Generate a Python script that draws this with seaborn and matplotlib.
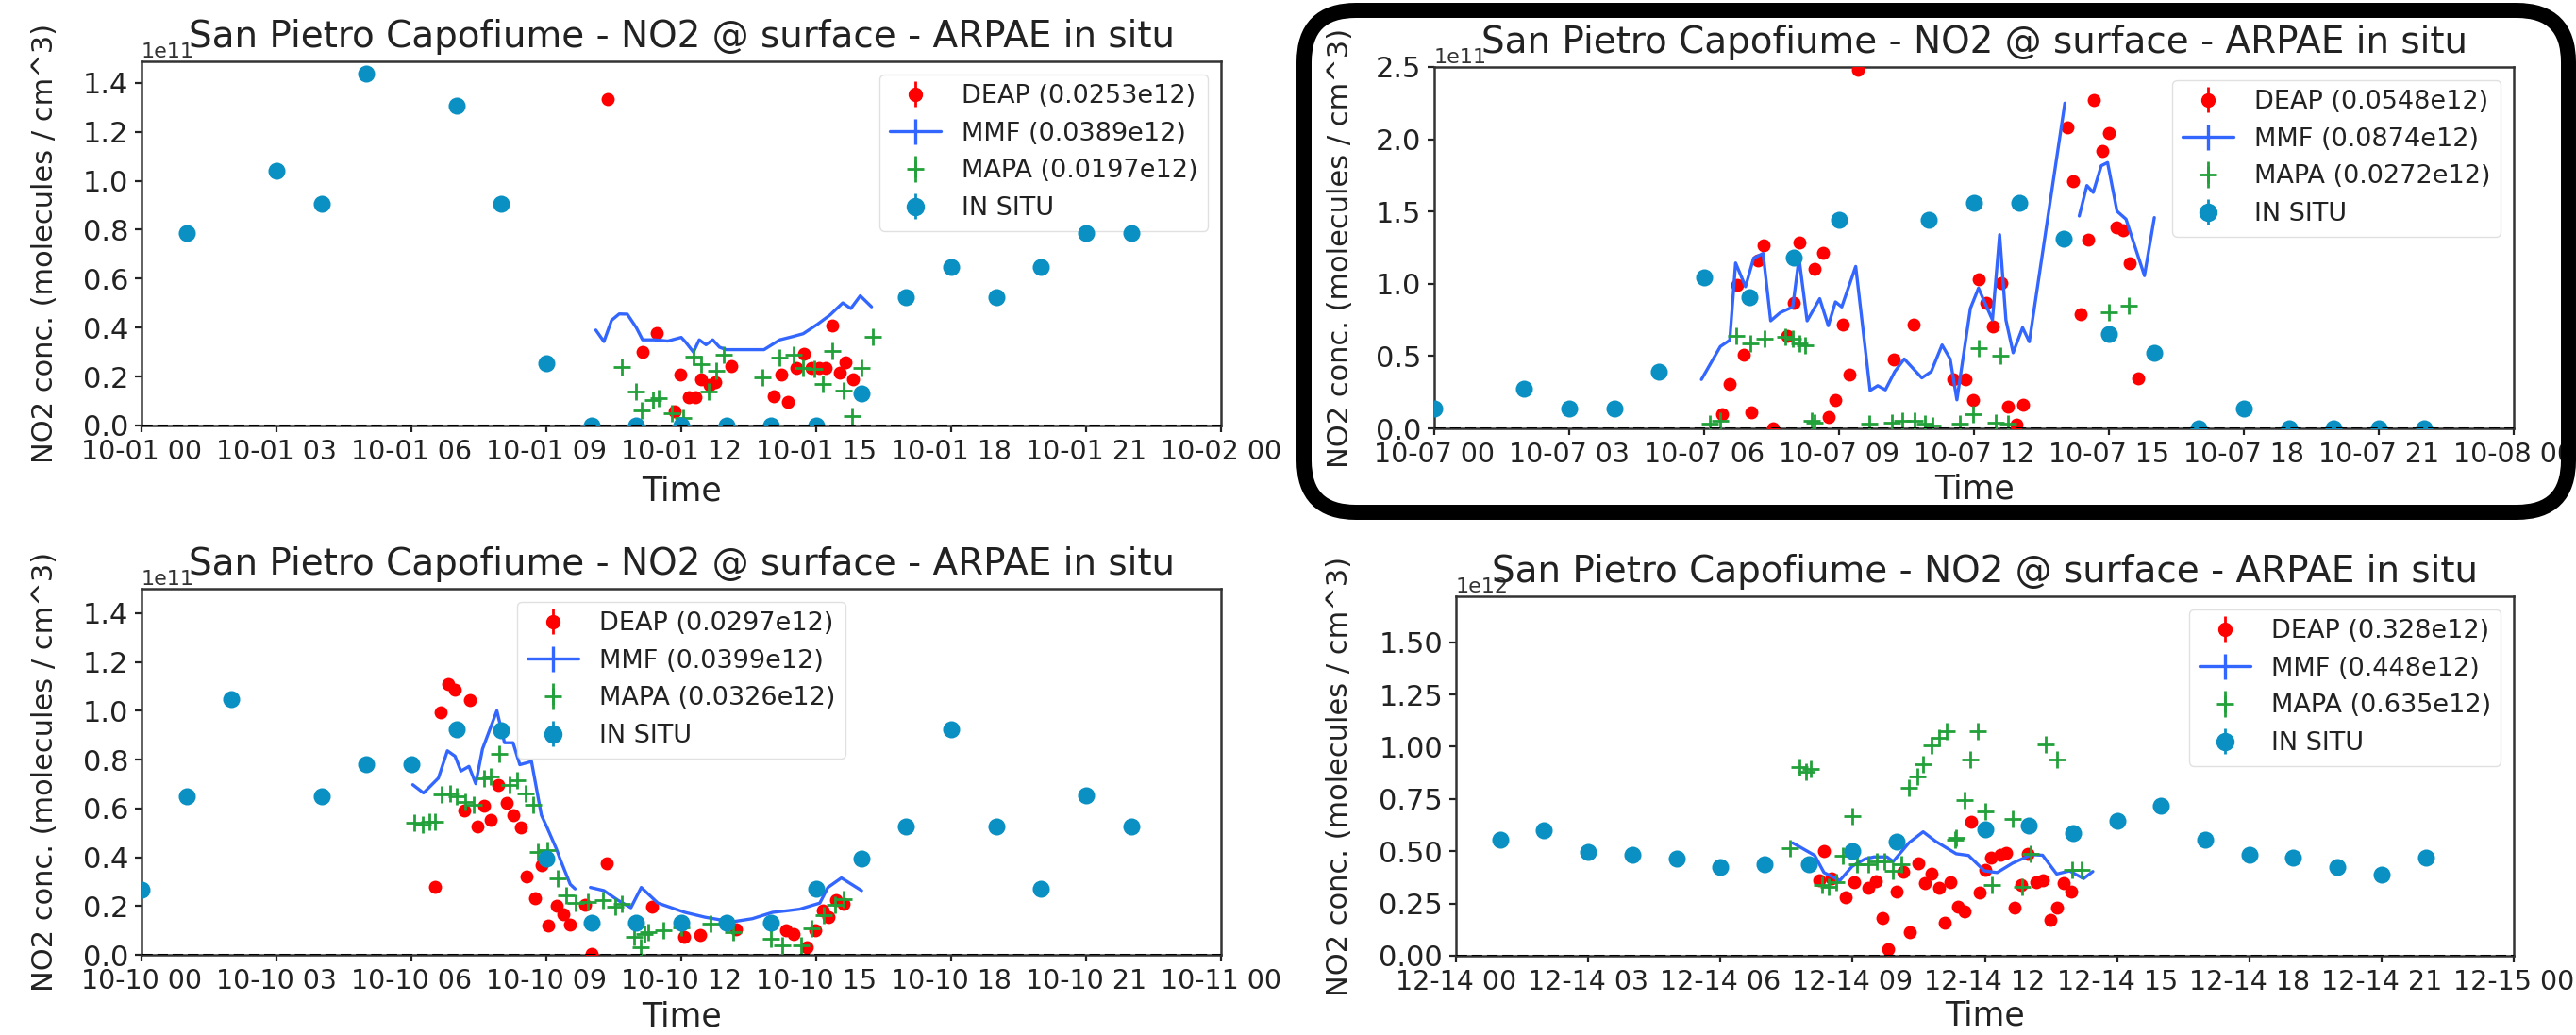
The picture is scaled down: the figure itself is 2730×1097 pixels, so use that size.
import numpy as np
import pandas as pd
import matplotlib
matplotlib.use("Agg")
import matplotlib.pyplot as plt
import matplotlib.dates as mdates
import matplotlib.ticker as mticker
import seaborn as sns
from matplotlib.patches import FancyBboxPatch
from matplotlib.transforms import IdentityTransform

sns.set_style("white")
plt.rcParams["font.family"] = ["DejaVu Sans"]

TITLE = "San Pietro Capofiume - NO2 @ surface - ARPAE in situ"
YLABEL = "NO2 conc. (molecules / cm^3)"

# ---------------- Panel 1 : 10-01 (values in 1e11) ----------------
tl_day = "2019-10-01"
tl_insitu_h = [1, 3, 4, 5, 7, 8, 9, 10, 11, 12, 13, 14, 15, 16, 17, 18, 19, 20, 21, 22]
tl_insitu_v = [0.785, 1.04, 0.906, 1.436, 1.305, 0.906, 0.253, 0.0, 0.0, 0.0, 0.0, 0.0, 0.0,
               0.13, 0.523, 0.649, 0.523, 0.649, 0.785, 0.785]
tl_mmf_h = [10.1, 10.28, 10.45, 10.62, 10.8, 11.0, 11.14, 11.4, 11.7, 12.0, 12.1, 12.27, 12.4,
            12.55, 12.7, 12.85, 13.0, 13.4, 13.84, 14.19, 14.47, 14.71, 15.03, 15.31, 15.59,
            15.77, 15.98, 16.23]
tl_mmf_v = [0.39, 0.343, 0.43, 0.456, 0.455, 0.40, 0.35, 0.35, 0.345, 0.36, 0.34, 0.30, 0.35,
            0.33, 0.35, 0.32, 0.31, 0.31, 0.31, 0.35, 0.363, 0.375, 0.414, 0.452, 0.501,
            0.478, 0.53, 0.485]
tl_deap_h = [10.36, 11.13, 11.45, 11.85, 11.97, 12.16, 12.32, 12.44, 12.63, 12.76, 13.11, 14.06,
             14.23, 14.37, 14.55, 14.72, 14.9, 15.07, 15.21, 15.35, 15.52, 15.66, 15.82]
tl_deap_v = [1.334, 0.30, 0.376, 0.057, 0.207, 0.114, 0.114, 0.19, 0.164, 0.177, 0.243, 0.118,
             0.208, 0.098, 0.234, 0.292, 0.234, 0.234, 0.234, 0.407, 0.214, 0.259, 0.188]
tl_mapa_h = [10.68, 10.99, 11.12, 11.37, 11.5, 11.8, 12.04, 12.27, 12.44, 12.6, 12.78, 12.94,
             13.81, 14.19, 14.5, 14.71, 14.95, 15.14, 15.35, 15.6, 15.8, 16.01, 16.26]
tl_mapa_v = [0.24, 0.14, 0.06, 0.104, 0.11, 0.05, 0.03, 0.283, 0.25, 0.137, 0.223, 0.29,
             0.195, 0.279, 0.29, 0.234, 0.23, 0.169, 0.305, 0.143, 0.04, 0.234, 0.362]
tl_labels = ["DEAP (0.0253e12)", "MMF (0.0389e12)", "MAPA (0.0197e12)", "IN SITU"]

# ---------------- Panel 2 : 10-07 (values in 1e11) ----------------
tr_day = "2019-10-07"
tr_insitu_h = [0, 2, 3, 4, 5, 6, 7, 8, 9, 11, 12, 13, 14, 15, 16, 17, 18, 19, 20, 21, 22]
tr_insitu_v = [0.14, 0.276, 0.14, 0.14, 0.39, 1.045, 0.91, 1.18, 1.44, 1.44, 1.562, 1.562, 1.31,
               0.654, 0.519, 0.0, 0.135, 0.0, 0.0, 0.0, 0.0]
tr_mmf_h = [5.94, 6.36, 6.57, 6.7, 6.92, 7.1, 7.31, 7.48, 7.69, 7.97, 8.11, 8.29, 8.57, 8.76,
            8.92, 9.06, 9.37, 9.69, 9.86, 10.03, 10.24, 10.45, 10.84, 11.05, 11.29, 11.47,
            11.62, 11.92, 12.1, 12.41, 12.57, 12.71, 12.87, 13.08, 13.23, 14.02, 14.18, 14.34,
            14.51, 14.65, 14.83, 14.97, 15.18, 15.38, 15.79, 16.01]
tr_mmf_v = [0.338, 0.566, 0.61, 1.144, 0.98, 1.177, 1.21, 0.744, 0.80, 0.84, 1.177, 0.744, 0.897,
            0.71, 0.875, 0.84, 1.12, 0.262, 0.295, 0.266, 0.393, 0.48, 0.349, 0.393, 0.577, 0.48,
            0.197, 0.83, 0.97, 0.75, 1.34, 0.75, 0.523, 0.697, 0.599, 2.25, np.nan, 1.469,
            1.68, 1.632, 1.817, 1.839, 1.502, 1.447, 1.056, 1.458]
tr_deap_h = [6.40, 6.57, 6.73, 6.89, 7.05, 7.19, 7.33, 7.54, 7.85, 7.99, 8.11, 8.45, 8.64, 8.76,
             8.92, 9.08, 9.23, 9.43, 10.21, 10.66, 11.54, 11.82, 11.97, 12.11, 12.27, 12.43,
             12.6, 12.76, 12.94, 13.09, 14.07, 14.2, 14.37, 14.53, 14.67, 14.86, 15.0, 15.17,
             15.31, 15.47, 15.65]
tr_deap_v = [0.10, 0.305, 0.99, 0.512, 0.114, 1.164, 1.267, 0.0, 0.642, 0.865, 1.285, 1.106,
             1.214, 0.077, 0.197, 0.718, 0.375, 2.48, 0.475, 0.718, 0.338, 0.338, 0.197, 1.034,
             0.867, 0.708, 1.005, 0.153, 0.023, 0.164, 2.08, 1.71, 0.79, 1.307, 2.27, 1.92,
             2.04, 1.39, 1.374, 1.14, 0.349]
tr_mapa_h = [6.13, 6.36, 6.71, 7.03, 7.34, 7.8, 7.97, 8.11, 8.25, 8.4, 8.46, 9.68, 10.18, 10.4,
             10.68, 10.9, 11.08, 11.68, 11.97, 12.1, 12.48, 12.59, 12.76, 15.0, 15.45]
tr_mapa_v = [0.03, 0.05, 0.642, 0.588, 0.62, 0.631, 0.62, 0.588, 0.577, 0.05, 0.04, 0.03, 0.04,
             0.05, 0.05, 0.03, 0.02, 0.03, 0.1, 0.555, 0.04, 0.501, 0.03, 0.805, 0.849]
tr_labels = ["DEAP (0.0548e12)", "MMF (0.0874e12)", "MAPA (0.0272e12)", "IN SITU"]

# ---------------- Panel 3 : 10-10 (values in 1e11) ----------------
bl_day = "2019-10-10"
bl_insitu_h = [0, 1, 2, 4, 5, 6, 7, 8, 9, 10, 11, 12, 13, 14, 15, 16, 17, 18, 19, 20, 21, 22]
bl_insitu_v = [0.265, 0.65, 1.049, 0.65, 0.782, 0.782, 0.923, 0.92, 0.395, 0.132, 0.132, 0.132,
               0.132, 0.132, 0.269, 0.395, 0.525, 0.923, 0.525, 0.269, 0.652, 0.525]
bl_mmf_h = [6.03, 6.27, 6.6, 6.8, 6.97, 7.1, 7.28, 7.43, 7.58, 7.9, 8.07, 8.26, 8.41, 8.67, 8.89,
            9.02, 9.23, 9.3, 9.53, 9.64, 9.8, 9.98, 10.28, 10.58, 10.88, 11.11, 11.48, 12.08,
            12.53, 13.13, 13.58, 14.03, 14.33, 14.63, 15.08, 15.26, 15.56, 16.01]
bl_mmf_v = [0.697, 0.663, 0.724, 0.836, 0.814, 0.753, 0.772, 0.701, 0.843, 1.0, 0.869, 0.869,
            0.779, 0.792, 0.572, 0.52, 0.431, 0.395, 0.289, 0.27, np.nan, 0.276, 0.263, 0.225,
            0.193, 0.276, 0.212, 0.174, 0.154, 0.135, 0.148, 0.174, 0.18, 0.187, 0.212, 0.276,
            0.315, 0.263]
bl_deap_h = [6.52, 6.66, 6.82, 6.97, 7.3, 7.17, 7.47, 7.61, 7.76, 7.92, 8.11, 8.26, 8.44, 8.56,
             8.74, 8.89, 9.04, 9.23, 9.38, 9.53, 9.87, 10.0, 10.34, 11.35, 12.06, 12.41, 13.22,
             14.33, 14.5, 14.78, 14.97, 15.14, 15.27, 15.45, 15.6]
bl_deap_v = [0.278, 0.994, 1.111, 1.087, 1.042, 0.59, 0.527, 0.611, 0.553, 0.695, 0.624, 0.573,
             0.521, 0.322, 0.231, 0.367, 0.12, 0.2, 0.167, 0.122, 0.206, 0.005, 0.375, 0.196,
             0.073, 0.08, 0.105, 0.1, 0.086, 0.03, 0.1, 0.182, 0.155, 0.223, 0.207]
bl_mapa_h = [6.07, 6.26, 6.4, 6.53, 6.68, 6.86, 7.0, 7.19, 7.38, 7.62, 7.76, 7.95, 8.18, 8.35,
             8.54, 8.7, 8.82, 9.03, 9.26, 9.45, 9.64, 9.92, 10.25, 10.53, 10.68, 10.95, 11.09,
             11.19, 11.27, 11.61, 11.99, 12.64, 13.16, 14.0, 14.24, 14.66, 14.89, 15.17, 15.41,
             15.6]
bl_mapa_v = [0.54, 0.533, 0.546, 0.547, 0.658, 0.662, 0.649, 0.627, 0.614, 0.724, 0.731, 0.822,
             0.696, 0.717, 0.662, 0.614, 0.423, 0.43, 0.313, 0.245, 0.211, 0.218, 0.225, 0.197,
             0.21, 0.073, 0.032, 0.086, 0.094, 0.1, 0.114, 0.127, 0.093, 0.066, 0.038, 0.038,
             0.107, 0.162, 0.203, 0.23]
bl_labels = ["DEAP (0.0297e12)", "MMF (0.0399e12)", "MAPA (0.0326e12)", "IN SITU"]

# ---------------- Panel 4 : 12-14 (values in 1e12) ----------------
br_day = "2019-12-14"
br_insitu_h = [1, 2, 3, 4, 5, 6, 7, 8, 9, 10, 12, 13, 14, 15, 16, 17, 18, 19, 20, 21, 22]
br_insitu_v = [0.557, 0.6, 0.498, 0.485, 0.466, 0.424, 0.437, 0.44, 0.5, 0.546, 0.606, 0.625,
               0.586, 0.647, 0.717, 0.556, 0.485, 0.468, 0.424, 0.386, 0.468]
br_mmf_h = [7.64, 8.14, 8.35, 8.71, 8.99, 9.28, 9.49, 9.78, 9.92, 10.28, 10.6, 10.88, 11.35,
            11.63, 11.99, 12.28, 12.63, 13.06, 13.31, 13.63, 13.92, 14.24, 14.45]
br_mmf_v = [0.54, 0.48, 0.398, 0.36, 0.428, 0.463, 0.473, 0.473, 0.451, 0.541, 0.593, 0.548,
            0.488, 0.48, 0.406, 0.398, 0.443, 0.484, 0.481, 0.391, 0.406, 0.369, 0.403]
br_deap_h = [8.35, 8.24, 8.53, 8.85, 9.03, 9.35, 9.53, 9.67, 9.81, 10.0, 10.14, 10.29, 10.48,
             10.63, 10.78, 10.96, 11.1, 11.21, 11.38, 11.53, 11.69, 11.88, 12.0, 12.13, 12.35,
             12.49, 12.67, 12.83, 12.98, 13.17, 13.31, 13.48, 13.63, 13.78, 13.95]
br_deap_v = [0.499, 0.362, 0.369, 0.278, 0.353, 0.323, 0.357, 0.181, 0.031, 0.308, 0.403, 0.113,
             0.444, 0.346, 0.391, 0.324, 0.158, 0.354, 0.233, 0.211, 0.643, 0.302, 0.413, 0.469,
             0.481, 0.493, 0.229, 0.338, 0.488, 0.354, 0.361, 0.173, 0.229, 0.346, 0.308]
br_mapa_h = [7.57, 7.8, 7.95, 8.06, 8.3, 8.45, 8.62, 8.78, 8.99, 9.1, 9.35, 9.55, 9.71, 9.92,
             10.1, 10.28, 10.46, 10.6, 10.78, 10.96, 11.14, 11.33, 11.35, 11.53, 11.67, 11.85,
             12.0, 12.17, 12.63, 12.85, 13.03, 13.38, 13.63, 13.99, 14.2]
br_mapa_v = [0.513, 0.905, 0.88, 0.894, 0.34, 0.33, 0.35, 0.48, 0.668, 0.44, 0.436, 0.45, 0.451,
             0.406, 0.44, 0.804, 0.856, 0.916, 1.006, 1.044, 1.076, 0.557, 0.563, 0.743, 0.939,
             1.073, 0.691, 0.338, 0.654, 0.33, 0.488, 1.012, 0.939, 0.413, 0.413]
br_labels = ["DEAP (0.328e12)", "MMF (0.448e12)", "MAPA (0.635e12)", "IN SITU"]

# ---------------- styling ----------------
C_DEAP = "#ff0000"
C_MMF = "#3366ff"
C_MAPA = "#22a03a"
C_INSITU = "#0a90c2"
TXT = "#222222"

W, H = 2730, 1097
fig = plt.figure(figsize=(W / 100, H / 100), dpi=100)
fig.patch.set_facecolor("white")


def add_axes_px(l, t, r, b):
    return fig.add_axes([l / W, 1 - b / H, (r - l) / W, (b - t) / H])


def draw_panel(ax, day, scale, ins_h, ins_v, mmf_h, mmf_v, dp_h, dp_v, mp_h, mp_v,
               labels, ytop, ystep, legloc, ylab_x, xlab_y):
    base = pd.Timestamp(day)

    def tt(h):
        return base + pd.to_timedelta(np.asarray(h, dtype=float), unit="h")

    mmf = pd.DataFrame({"t": tt(mmf_h), "v": np.asarray(mmf_v, dtype=float) * scale})
    mmf["seg"] = mmf["v"].isna().cumsum()
    mmf = mmf.dropna()

    sns.scatterplot(x=tt(dp_h), y=np.asarray(dp_v) * scale, marker="o", s=10 ** 2,
                    color=C_DEAP, linewidth=0, ax=ax, legend=False, zorder=3)
    sns.lineplot(data=mmf, x="t", y="v", units="seg", estimator=None, color=C_MMF,
                 linewidth=2.4, ax=ax, legend=False, zorder=4)
    sns.scatterplot(x=tt(mp_h), y=np.asarray(mp_v) * scale, marker="+", s=13 ** 2,
                    color=C_MAPA, linewidth=2.0, ax=ax, legend=False, zorder=5)
    sns.scatterplot(x=tt(ins_h), y=np.asarray(ins_v) * scale, marker="o", s=13 ** 2,
                    color=C_INSITU, linewidth=0, ax=ax, legend=False, zorder=6)
    ax.axhline(0, color="black", ls="--", lw=2.2, zorder=7)

    # legend proxies (errorbar style handles)
    nan_t = [base]
    h1 = ax.errorbar(nan_t, [np.nan], yerr=[0], fmt="o", color=C_DEAP, ms=10, lw=2)
    h2 = ax.errorbar(nan_t, [np.nan], yerr=[0], fmt="-", color=C_MMF, lw=2.4)
    h3 = ax.errorbar(nan_t, [np.nan], yerr=[0], fmt="+", color=C_MAPA, ms=13, mew=2, lw=2)
    h4 = ax.errorbar(nan_t, [np.nan], yerr=[0], fmt="o", color=C_INSITU, ms=13, lw=2)
    leg = ax.legend([h1, h2, h3, h4], labels, loc=legloc, fontsize=19.5,
                    framealpha=0.8, edgecolor="0.85")
    for txt in leg.get_texts():
        txt.set_color(TXT)

    ax.set_xlim(base, base + pd.Timedelta(days=1))
    ax.set_ylim(0, ytop)
    ax.yaxis.set_major_locator(mticker.MultipleLocator(ystep))
    ax.xaxis.set_major_locator(mdates.HourLocator(byhour=range(0, 24, 3)))
    ax.xaxis.set_major_formatter(mdates.DateFormatter("%m-%d %H"))
    ax.tick_params(axis="both", length=5, width=1.6, pad=5, colors=TXT,
                   bottom=True, left=True)
    ax.tick_params(axis="x", labelsize=20.5)
    ax.tick_params(axis="y", labelsize=22)
    ax.yaxis.get_offset_text().set_fontsize(16)
    ax.yaxis.get_offset_text().set_color("#333333")

    ax.set_title(TITLE, fontsize=28, pad=11, y=1.0, color=TXT)
    ax.set_xlabel("Time", fontsize=25, color=TXT)
    ax.set_ylabel(YLABEL, fontsize=22, color=TXT)
    ax.yaxis.set_label_coords(ylab_x, 0.5)
    ax.xaxis.set_label_coords(0.5, xlab_y)
    for sp in ax.spines.values():
        sp.set_visible(True)
        sp.set_color("#333333")
        sp.set_linewidth(1.8)


ax1 = add_axes_px(150, 65, 1294, 451)
draw_panel(ax1, tl_day, 1e11, tl_insitu_h, tl_insitu_v, tl_mmf_h, tl_mmf_v, tl_deap_h,
           tl_deap_v, tl_mapa_h, tl_mapa_v, tl_labels, 1.488e11, 0.2e11, "upper right",
           -0.0765, -0.136)

ax2 = add_axes_px(1520, 71, 2664, 454)
draw_panel(ax2, tr_day, 1e11, tr_insitu_h, tr_insitu_v, tr_mmf_h, tr_mmf_v, tr_deap_h,
           tr_deap_v, tr_mapa_h, tr_mapa_v, tr_labels, 2.5e11, 0.5e11, "upper right",
           -0.0743, -0.125)

ax3 = add_axes_px(150, 624, 1294, 1012)
draw_panel(ax3, bl_day, 1e11, bl_insitu_h, bl_insitu_v, bl_mmf_h, bl_mmf_v, bl_deap_h,
           bl_deap_v, bl_mapa_h, bl_mapa_v, bl_labels, 1.5e11, 0.2e11, "upper center",
           -0.0765, -0.124)

ax4 = add_axes_px(1543, 632, 2664, 1013)
draw_panel(ax4, br_day, 1e12, br_insitu_h, br_insitu_v, br_mmf_h, br_mmf_v, br_deap_h,
           br_deap_v, br_mapa_h, br_mapa_v, br_labels, 1.72e12, 0.25e12, "upper right",
           -0.0968, -0.123)

# highlight frame around the top-right panel (pixel coordinates)
frame = FancyBboxPatch((1382, H - 543), 1340, 532,
                       boxstyle="round,pad=0,rounding_size=55",
                       transform=IdentityTransform(), fill=False,
                       edgecolor="black", linewidth=11.5)
fig.add_artist(frame)

fig.savefig("out.png", dpi=100, facecolor="white")
